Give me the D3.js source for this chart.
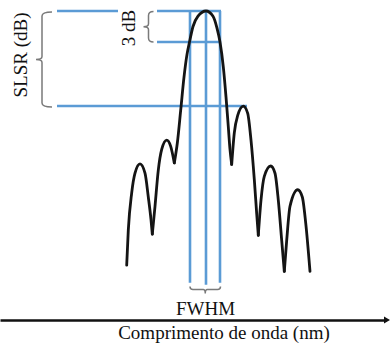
<!DOCTYPE html>
<html>
<head>
<meta charset="utf-8">
<script src="https://cdn.jsdelivr.net/npm/d3@7"></script>
<style>
  html, body { margin: 0; padding: 0; background: #fff; }
  svg { display: block; }
  text { font-family: "Liberation Serif", "Times New Roman", serif; fill: #111; }
</style>
</head>
<body>
<svg id="chart" width="390" height="345"></svg>
<script>
// ---- data (wavelength in nm, power in dB relative to peak) ----
const lobeWavelengths = [
  [1549.207, 1549.223, 1549.257, 1549.290, 1549.340, 1549.390, 1549.423, 1549.450, 1549.463],
  [1549.463, 1549.490, 1549.523, 1549.557, 1549.607, 1549.647, 1549.683],
  [1549.683, 1549.713, 1549.747, 1549.780, 1549.810, 1549.835, 1549.870, 1549.920, 1550.000,
   1550.070, 1550.110, 1550.140, 1550.173, 1550.200, 1550.223, 1550.240, 1550.257],
  [1550.257, 1550.283, 1550.317, 1550.373, 1550.417, 1550.450, 1550.483, 1550.507, 1550.523],
  [1550.523, 1550.550, 1550.583, 1550.647, 1550.690, 1550.723, 1550.757, 1550.783],
  [1550.783, 1550.807, 1550.840, 1550.917, 1550.963, 1550.997, 1551.040]
];
const lobePowers = [
  [-24.6, -21.2, -17.6, -15.7, -14.8, -15.7, -18.0, -20.2, -21.6],
  [-21.6, -18.9, -15.4, -13.4, -12.5, -13.1, -14.7],
  [-14.7, -12.8, -9.6, -6.4, -4.2, -3.0, -1.5, -0.5, 0.0,
   -0.5, -1.65, -3.0, -5.4, -8.3, -11.2, -13.4, -14.85],
  [-14.85, -11.8, -10.1, -9.2, -9.9, -12.5, -16.3, -19.6, -21.7],
  [-21.7, -18.3, -16.0, -15.0, -15.7, -18.3, -22.2, -25.2],
  [-25.2, -22.2, -18.9, -17.3, -18.0, -20.5, -25.2]
];
const peakWavelength = 1550.0;
const peakLevel = 0;          // dB
const halfLevel = -3;         // dB (3 dB below peak)
const sideLobeLevel = -9.2;   // dB (highest side lobe)
const fwhmEdges = [1549.84, 1550.14];
const labels = {
  slsr: "SLSR (dB)",
  threeDb: "3 dB",
  fwhm: "FWHM",
  xAxis: "Comprimento de onda (nm)"
};

// ---- scales ----
const svg = d3.select("#chart");
const x = d3.scaleLinear().domain([1549, 1551]).range([106, 306]);
const y = d3.scaleLinear().domain([0, -3]).range([11, 42]);

const blue = "#5b9bd5";
const grey = "#7a7a7a";

// ---- blue reference lines ----
const gBlue = svg.append("g").attr("stroke", blue).attr("stroke-width", 2.6).attr("fill", "none");
gBlue.append("line").attr("x1", x(1548.51)).attr("x2", x(1549.12)).attr("y1", y(peakLevel)).attr("y2", y(peakLevel));
gBlue.append("line").attr("x1", x(1549.51)).attr("x2", x(1550.15)).attr("y1", y(peakLevel)).attr("y2", y(peakLevel));
gBlue.append("line").attr("x1", x(1549.51)).attr("x2", x(1550.15)).attr("y1", y(halfLevel)).attr("y2", y(halfLevel));
gBlue.append("line").attr("x1", x(1548.51)).attr("x2", x(1550.41)).attr("y1", y(sideLobeLevel)).attr("y2", y(sideLobeLevel));
[fwhmEdges[0], peakWavelength, fwhmEdges[1]].forEach((w, i) => {
  gBlue.append("line")
    .attr("x1", x(w)).attr("x2", x(w))
    .attr("y1", y(peakLevel)).attr("y2", y(i === 1 ? -26.5 : -26.3));
});

// ---- spectrum curve ----
const line = d3.line()
  .x(d => x(d[0])).y(d => y(d[1]))
  .curve(d3.curveMonotoneX);
const gCurve = svg.append("g").attr("fill", "none").attr("stroke", "#141414")
  .attr("stroke-width", 2.8).attr("stroke-linejoin", "round").attr("stroke-linecap", "round");
lobeWavelengths.forEach((ws, i) => {
  const pts = ws.map((w, j) => [w, lobePowers[i][j]]);
  gCurve.append("path").attr("d", line(pts));
});

// ---- braces ----
const gBr = svg.append("g").attr("fill", "none").attr("stroke", grey).attr("stroke-width", 1.5);
function vBrace(bx, y0, y1, hook, tick) {
  const ym = (y0 + y1) / 2;
  return `M${bx + hook},${y0} Q${bx},${y0} ${bx},${y0 + 4} L${bx},${ym - 3} Q${bx},${ym} ${bx - tick},${ym}` +
         ` Q${bx},${ym} ${bx},${ym + 3} L${bx},${y1 - 4} Q${bx},${y1} ${bx + hook},${y1}`;
}
gBr.append("path").attr("d", vBrace(42, y(peakLevel) + 1, y(sideLobeLevel) + 1, 10, 6));
gBr.append("path").attr("d", vBrace(148.5, y(peakLevel) + 0.5, y(halfLevel), 5, 5));
(function () {
  const x0 = x(fwhmEdges[0]), x1 = x(fwhmEdges[1]) + 0.5, by = 289.5, xm = (x0 + x1) / 2;
  gBr.append("path").attr("d",
    `M${x0},${by - 3} Q${x0},${by} ${x0 + 3},${by} L${xm - 2},${by} Q${xm},${by} ${xm},${by + 4}` +
    ` Q${xm},${by} ${xm + 2},${by} L${x1 - 3},${by} Q${x1},${by} ${x1},${by - 3}`);
})();

// ---- x axis with arrow ----
const axisG = svg.append("g").attr("transform", "translate(0,320)")
  .call(d3.axisBottom(d3.scaleLinear().domain([1548, 1552]).range([0, 386])).ticks(0).tickSizeOuter(0));
axisG.select(".domain").attr("stroke", "#111").attr("stroke-width", 2.6);
svg.append("path").attr("d", "M384,316.5 L390,320 L384,323.5 Z").attr("fill", "#111");

// ---- texts ----
svg.append("text").attr("transform", "translate(27,55) rotate(-90)")
  .attr("text-anchor", "middle").attr("font-size", 19).text(labels.slsr);
svg.append("text").attr("transform", "translate(135,28) rotate(-90)")
  .attr("text-anchor", "middle").attr("font-size", 19).text(labels.threeDb);
svg.append("text").attr("x", 205.5).attr("y", 315)
  .attr("text-anchor", "middle").attr("font-size", 19).text(labels.fwhm);
svg.append("text").attr("x", 224).attr("y", 338.5)
  .attr("text-anchor", "middle").attr("font-size", 19).text(labels.xAxis);
</script>
</body>
</html>
